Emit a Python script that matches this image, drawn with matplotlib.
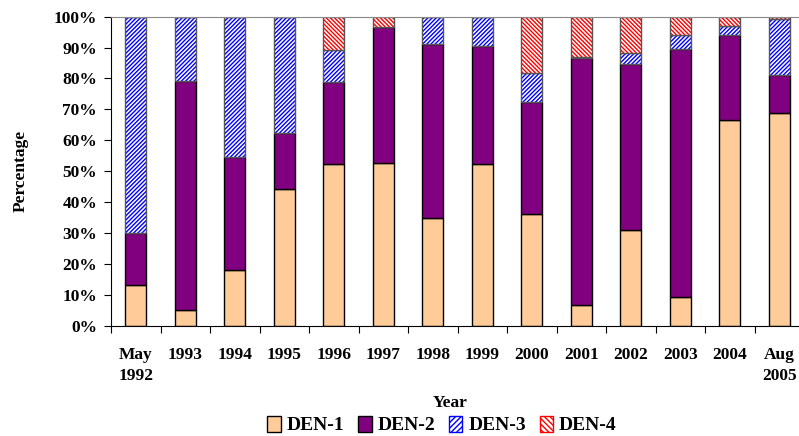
import matplotlib.pyplot as plt
import numpy as np
from matplotlib.patches import Patch

plt.rcParams['font.family'] = ['Liberation Serif', 'DejaVu Serif']
plt.rcParams['font.weight'] = 'bold'
plt.rcParams['hatch.linewidth'] = 1.0

years = ['May\n1992', '1993', '1994', '1995', '1996', '1997', '1998',
         '1999', '2000', '2001', '2002', '2003', '2004', 'Aug\n2005']
den1 = [13.1, 5.0, 17.9, 44.3, 52.4, 52.8, 35.0, 52.2, 36.2, 6.7, 30.9, 9.4, 66.7, 68.9]
den2 = [16.8, 74.1, 36.6, 18.0, 26.6, 44.0, 56.1, 38.2, 36.1, 79.8, 53.8, 80.1, 27.5, 12.1]
den3 = [70.1, 20.9, 45.5, 37.7, 10.2, 0.0, 8.9, 9.6, 9.6, 0.3, 3.5, 4.7, 2.8, 18.2]
den4 = [0.0, 0.0, 0.0, 0.0, 10.8, 3.2, 0.0, 0.0, 18.1, 13.2, 11.8, 5.8, 3.0, 0.8]

fig = plt.figure(figsize=(7.99, 4.36), dpi=100)
ax = fig.add_axes([111 / 799, 1 - 325.7 / 436, 693 / 799, 309 / 436])

x = np.arange(len(years))
w = 0.43
b1 = np.array(den1)
b2 = b1 + np.array(den2)
b3 = b2 + np.array(den3)

ax.bar(x, den1, w, color='#ffcc99', edgecolor='black', linewidth=1)
ax.bar(x, den2, w, bottom=b1, color='#800080', edgecolor='black', linewidth=1)
# hatched segments: draw hatch in colour, then a grey outline on top
ax.bar(x, den3, w, bottom=b2, color='white', edgecolor='#0000ff', hatch='/' * 8, linewidth=0)
ax.bar(x, den3, w, bottom=b2, fill=False, edgecolor='#555555', linewidth=1)
ax.bar(x, den4, w, bottom=b3, color='white', edgecolor='#ff0000', hatch='\\' * 8, linewidth=0)
ax.bar(x, den4, w, bottom=b3, fill=False, edgecolor='#555555', linewidth=1)

ax.set_xlim(-0.5, len(years) - 0.5)
ax.set_ylim(0, 100)
ax.set_yticks(np.arange(0, 101, 10))
ax.set_yticklabels([f'{v}%' for v in range(0, 101, 10)], fontsize=12.5, fontweight='bold')
ax.set_xticks(np.arange(-0.5, len(years), 1.0))
ax.set_xticklabels([])
ax.set_xticks(x, minor=True)
ax.set_xticklabels(years, minor=True, fontsize=12.5, fontweight='bold', linespacing=1.45)
ax.tick_params(axis='x', which='minor', length=0, pad=15)
ax.tick_params(axis='x', which='major', direction='out', length=5)
ax.tick_params(axis='y', direction='out', length=5, pad=5)

ax.spines['right'].set_visible(False)
ax.spines['top'].set_color('#888888')
ax.spines['left'].set_color('black')
ax.spines['bottom'].set_color('black')

ax.set_ylabel('Percentage', fontsize=12.5, fontweight='bold', labelpad=18)
fig.text(0.5635, 1 - 403 / 436, 'Year', ha='center', va='center', fontsize=12.5, fontweight='bold')

handles = [
    Patch(facecolor='#ffcc99', edgecolor='black', label='DEN-1'),
    Patch(facecolor='#800080', edgecolor='black', label='DEN-2'),
    Patch(facecolor='white', edgecolor='#0000ff', hatch='/' * 6, label='DEN-3'),
    Patch(facecolor='white', edgecolor='#ff0000', hatch='\\' * 6, label='DEN-4'),
]
fig.legend(handles=handles, loc='center', bbox_to_anchor=(442 / 799, 1 - 425 / 436),
           ncol=4, frameon=False, handlelength=0.7, handleheight=0.9,
           handletextpad=0.3, columnspacing=0.7, prop={'weight': 'bold', 'size': 14})

fig.savefig('out.png', dpi=100)
